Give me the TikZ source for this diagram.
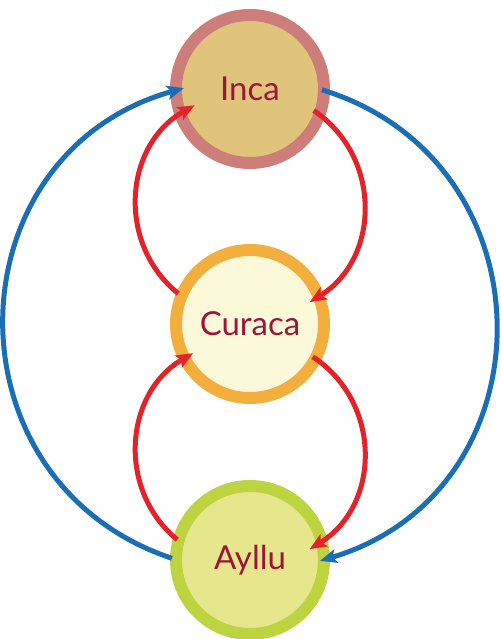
\documentclass[tikz,border=0pt]{standalone}
\usepackage{fontspec}
\setmainfont{Lato}
\usetikzlibrary{arrows.meta,calc}
\definecolor{incafill}{HTML}{E0C47C}
\definecolor{incaborder}{HTML}{CD7E7B}
\definecolor{curfill}{HTML}{FCF8DA}
\definecolor{curborder}{HTML}{F3AF3D}
\definecolor{ayfill}{HTML}{E6E78C}
\definecolor{ayborder}{HTML}{BDD440}
\definecolor{labeltext}{HTML}{9C1638}
\definecolor{arrred}{HTML}{E3222A}
\definecolor{arrblue}{HTML}{1A6EB5}
\tikzset{
  circnode/.style={circle, minimum size=148pt, inner sep=0pt, outer sep=0pt,
    line width=12pt, text=labeltext, font=\fontsize{33}{36}\selectfont},
  redarrow/.style={draw=arrred, line width=5pt, -{Stealth[length=17pt,width=14pt,inset=4pt]}},
  bluearrow/.style={draw=arrblue, line width=5pt, -{Stealth[length=17pt,width=14pt,inset=4pt]}}
}
\begin{document}
\begin{tikzpicture}[x=1pt,y=1pt]
\useasboundingbox (0,0) rectangle (500,639);
\node[circnode, fill=incafill, draw=incaborder] (inca) at (250,550) {Inca};
\node[circnode, fill=curfill, draw=curborder] (curaca) at (250,315) {Curaca};
\node[circnode, fill=ayfill, draw=ayborder] (ayllu) at (250,79) {Ayllu};
% endpoints
\coordinate (bls) at ($(ayllu.center)+(-78.1,1.7)$);
\coordinate (ble) at ($(inca.center)+(-66.1,0.9)$);
\coordinate (brs) at ($(inca.center)+(71.9,-0.8)$);
\coordinate (bre) at ($(ayllu.center)+(69.9,-0.9)$);
\coordinate (uls) at ($(curaca.center)+(-71.7,30.4)$);
\coordinate (ule) at ($(inca.center)+(-55.3,-16.3)$);
\coordinate (urs) at ($(inca.center)+(63.7,-21.5)$);
\coordinate (ure) at ($(curaca.center)+(59.6,21.8)$);
\coordinate (lls) at ($(ayllu.center)+(-72.8,20.3)$);
\coordinate (lle) at ($(curaca.center)+(-56.8,-29.2)$);
\coordinate (lrs) at ($(curaca.center)+(62.8,-32.8)$);
\coordinate (lre) at ($(ayllu.center)+(59.6,10.8)$);
% blue
\draw[bluearrow] (bls) to[out=161.5,in=195.6,looseness=1.317] (ble);
\draw[bluearrow] (brs) to[out=-17,in=16.5,looseness=1.32] (bre);
% red
\draw[redarrow] (uls) to[out=141,in=209,looseness=1.092] (ule);
\draw[redarrow] (urs) to[out=-34,in=31.5,looseness=1.105] (ure);
\draw[redarrow] (lls) to[out=140.3,in=209.9,looseness=1.084] (lle);
\draw[redarrow] (lrs) to[out=-33.4,in=31.5,looseness=1.108] (lre);
\end{tikzpicture}
\end{document}
